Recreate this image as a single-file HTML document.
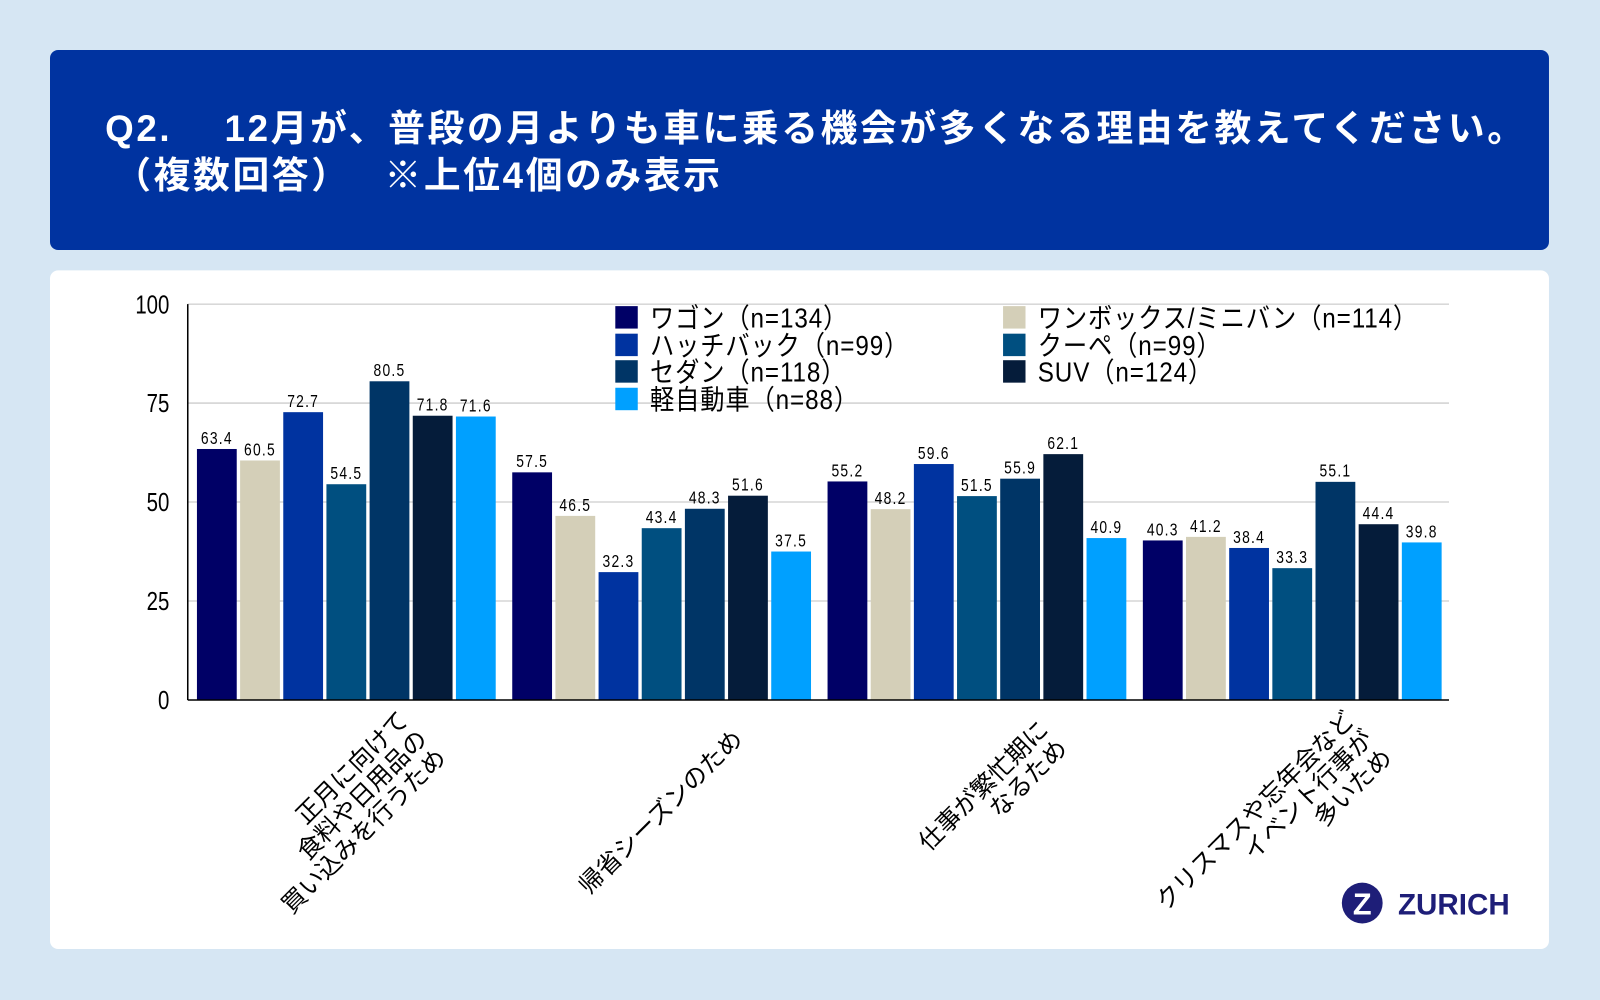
<!DOCTYPE html>
<html><head><meta charset="utf-8">
<style>
html,body{margin:0;padding:0;width:1600px;height:1000px;overflow:hidden;background:#d6e6f3;}
#wrap{position:absolute;left:0;top:0;width:1568px;height:980px;transform:scale(1.020408);transform-origin:0 0;}
.hdr{position:absolute;left:49px;top:49px;width:1469px;height:196px;background:#0033a0;border-radius:8px;}
.t{position:absolute;color:#fff;font-family:"Liberation Sans","Noto Sans CJK JP",sans-serif;font-weight:bold;font-size:36px;letter-spacing:2.6px;white-space:nowrap;}
.card{position:absolute;left:49px;top:265px;width:1469px;height:665px;background:#fff;border-radius:8px;}
svg{position:absolute;left:0;top:0;}
</style></head><body>
<div id="wrap">
<div class="hdr"></div>
<div class="t" style="left:103px;top:97px;">Q2.　 12月が、普段の月よりも車に乗る機会が多くなる理由を教えてください。</div>
<div class="t" style="left:112px;top:143px;">（複数回答）　 ※上位4個のみ表示</div>
<div class="card"></div>
<svg id="chart" width="1568" height="980"></svg>
</div>
<script>
const categories=[["正月に向けて","食料や日用品の","買い込みを行うため"],["帰省シーズンのため"],["仕事が繁忙期に","なるため"],["クリスマスや忘年会など","イベント行事が","多いため"]];
const seriesNames=["ワゴン（n=134）","ワンボックス/ミニバン（n=114）","ハッチバック（n=99）","クーペ（n=99）","セダン（n=118）","SUV（n=124）","軽自動車（n=88）"];
const wagon=[63.4,57.5,55.2,40.3];
const minivan=[60.5,46.5,48.2,41.2];
const hatchback=[72.7,32.3,59.6,38.4];
const coupe=[54.5,43.4,51.5,33.3];
const sedan=[80.5,48.3,55.9,55.1];
const suv=[71.8,51.6,62.1,44.4];
const kei=[71.6,37.5,40.9,39.8];
const yTicks=[0,25,50,75,100];
const series=[wagon,minivan,hatchback,coupe,sedan,suv,kei];
const colors=["#000066","#d4cfb8","#0033a0","#004f80","#003566","#051c3a","#00a0ff"];
const NS="http://www.w3.org/2000/svg";
const svg=document.getElementById('chart');
const X0=184,X1=1420,Y0=686,Y1=298;
const y=v=>Y0-(v/100)*(Y0-Y1);
const gw=(X1-X0)/categories.length;
const step=42.3,bw=39;
function mk(tag,attrs,txt){const e=document.createElementNS(NS,tag);for(const k in attrs)e.setAttribute(k,attrs[k]);if(txt!==undefined)e.textContent=txt;svg.appendChild(e);return e;}
const F='"Liberation Sans","Noto Sans CJK JP",sans-serif';
yTicks.forEach(t=>{
 if(t>0){const g=mk('line',{x1:X0,x2:X1,y1:y(t),y2:y(t),stroke:'#c0c0c0','stroke-width':1});
 
 }
 const l=mk('text',{x:166,y:y(t)+9,'text-anchor':'end','font-family':F,'font-size':25,fill:'#000',transform:`translate(166 0) scale(0.8 1) translate(-166 0)`},t);
 
 
});
series.forEach((s,si)=>{
 s.forEach((v,ci)=>{
  const bx=X0+ci*gw+9+si*step;
  const r=mk('rect',{x:bx,y:y(v),width:bw,height:Y0-y(v),fill:colors[si]});
  
  
  const cx=bx+bw/2;
  const tl=mk('text',{x:cx,y:y(v)-5,'text-anchor':'middle','font-family':F,'font-size':17,'letter-spacing':1.5,fill:'#000',transform:`translate(${cx} 0) scale(0.8 1) translate(${-cx} 0)`},v.toFixed(1));
  
  
 });
});
const ya=mk('line',{x1:X0,x2:X0,y1:Y1,y2:Y0,stroke:'#000','stroke-width':1.5});


const xa=mk('line',{x1:X0,x2:X1,y1:Y0,y2:Y0,stroke:'#000','stroke-width':1.5});


categories.forEach((lines,ci)=>{
 const ax=X0+ci*gw+gw/2+76,ay=720;
 const fs=24,lh=26;
 const n=lines.length;
 const g=mk('g',{transform:`translate(${ax} ${ay}) rotate(-45)`});
 
 
 lines.forEach((ln,li)=>{
  const t=document.createElementNS(NS,'text');
  t.setAttribute('x',0);t.setAttribute('y',(li-(n-1)/2)*lh+8);
  t.setAttribute('text-anchor','end');t.setAttribute('font-family',F);t.setAttribute('font-size',fs);
  t.textContent=ln;g.appendChild(t);
 });
});
const lx=[603,983],ly=[311,338,364,391];
const order=[[0,0,0],[1,1,0],[2,0,1],[3,1,1],[4,0,2],[5,1,2],[6,0,3]];
order.forEach(([si,c,r])=>{
 const sq=mk('rect',{x:lx[c],y:ly[r]-11,width:22,height:22,fill:colors[si]});
 
 
 const tx=lx[c]+34;
 const t=mk('text',{x:tx,y:ly[r]+10,'font-family':F,'font-size':27,'letter-spacing':1,fill:'#000',transform:`translate(${tx} 0) scale(0.88 1) translate(${-tx} 0)`},seriesNames[si]);
 
 
});
const lg=mk('g',{});


const c=document.createElementNS(NS,'circle');c.setAttribute('cx',1335);c.setAttribute('cy',885);c.setAttribute('r',20);c.setAttribute('fill','#1e1e78');lg.appendChild(c);
const z=document.createElementNS(NS,'text');z.setAttribute('x',1335);z.setAttribute('y',896);z.setAttribute('text-anchor','middle');z.setAttribute('font-family',F);z.setAttribute('font-weight','bold');z.setAttribute('font-size',30);z.setAttribute('fill','#fff');z.textContent='Z';lg.appendChild(z);
const zt=document.createElementNS(NS,'text');zt.setAttribute('x',1370);zt.setAttribute('y',896);zt.setAttribute('font-family',F);zt.setAttribute('font-weight','bold');zt.setAttribute('font-size',29);zt.setAttribute('fill','#1e1e78');zt.textContent='ZURICH';lg.appendChild(zt);
</script>
</body></html>
